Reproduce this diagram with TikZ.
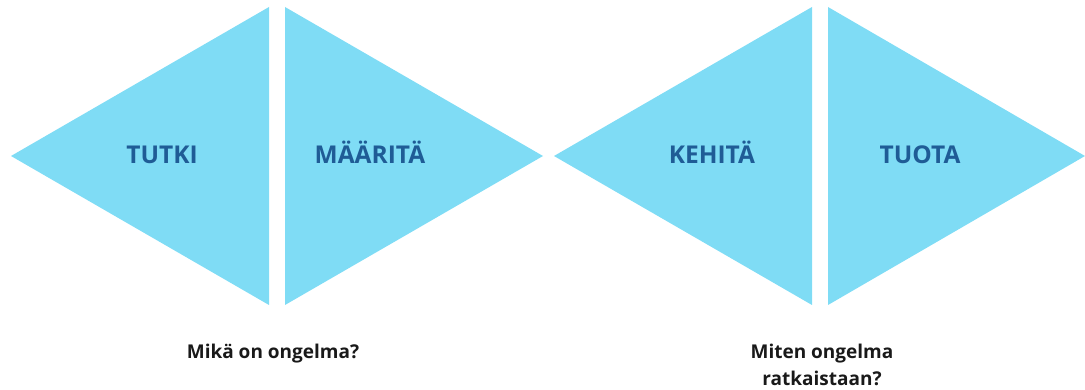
\documentclass[tikz,border=0pt]{standalone}
\usepackage{fontspec}
\setmainfont{Open Sans}
\definecolor{tri}{HTML}{7FDCF5}
\definecolor{lbl}{HTML}{1F5C96}
\tikzset{
  tri/.style={fill=tri, draw=none},
  lab/.style={text=lbl, font=\fontsize{24.5}{28}\selectfont\bfseries, inner sep=0pt, anchor=base},
  q/.style={text=black!90, font=\fontsize{19}{26}\selectfont\bfseries, align=center, inner sep=0pt}
}
\begin{document}
\begin{tikzpicture}[x=1pt,y=-1pt]
\useasboundingbox (0,0) rectangle (1085,390);
\fill[tri] (11,156) -- (269,7) -- (269,305) -- cycle;
\fill[tri] (285,7) -- (543,156) -- (285,305) -- cycle;
\fill[tri] (554,156) -- (812,7) -- (812,305) -- cycle;
\fill[tri] (828,7) -- (1085,156) -- (828,305) -- cycle;
\node[lab] (tutki) at (162,164) {TUTKI};
\node[lab] (maarita) at (370,164) {MÄÄRITÄ};
\node[lab] (kehita) at (712,164) {KEHITÄ};
\node[lab] (tuota) at (920,164) {TUOTA};
\node[q, anchor=base] (q1) at (273,358) {Mikä on ongelma?};
\node[q, anchor=base] (q2) at (822,358) {Miten ongelma};
\node[q, anchor=base] (q3) at (822,385) {ratkaistaan?};
\end{tikzpicture}
\end{document}
